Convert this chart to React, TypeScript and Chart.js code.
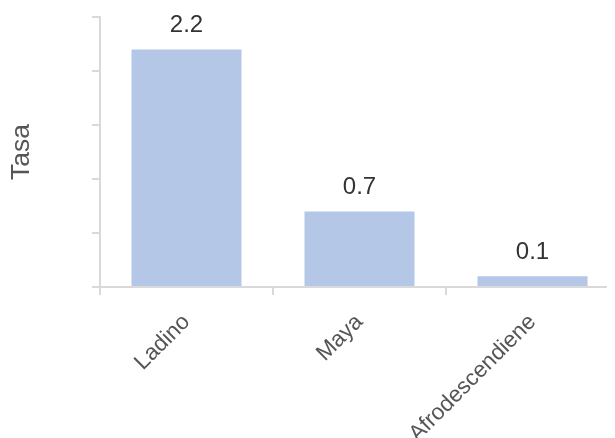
import React, { useEffect, useRef } from "react";
import { Chart, registerables } from "chart.js";

Chart.register(...registerables);

const categories = ["Ladino", "Maya", "Afrodescendiene"];
const values = [2.2, 0.7, 0.1];
const yTitle = "Tasa";

const valueLabels = {
  id: "valueLabels",
  afterDatasetsDraw(chart: any) {
    const ctx = chart.ctx;
    const meta = chart.getDatasetMeta(0);
    ctx.save();
    ctx.font = "24px 'Liberation Sans', Arial, sans-serif";
    ctx.fillStyle = "#333333";
    ctx.textAlign = "center";
    ctx.textBaseline = "bottom";
    meta.data.forEach((el: any, i: number) => {
      ctx.fillText(String(values[i]), el.x, el.y - 12);
    });
    ctx.restore();
  },
};

export default function App() {
  const ref = useRef<HTMLCanvasElement>(null);
  useEffect(() => {
    const canvas = ref.current!;
    const chart = new Chart(canvas, {
      type: "bar",
      data: {
        labels: categories,
        datasets: [
          {
            data: values,
            backgroundColor: "#b4c7e7",
            categoryPercentage: 1,
            barPercentage: 0.636,
          },
        ],
      },
      options: {
        responsive: false,
        animation: false,
        layout: { padding: { top: 9, left: 0, right: 0, bottom: 0 } },
        plugins: { legend: { display: false }, tooltip: { enabled: false } },
        scales: {
          x: {
            offset: true,
            grid: {
              offset: true,
              drawOnChartArea: false,
              color: "#d9d9d9",
              tickLength: 8,
              lineWidth: 2,
            },
            border: { color: "#d9d9d9", width: 2 },
            ticks: {
              minRotation: 45,
              maxRotation: 45,
              color: "#555555",
              padding: 14,
              font: { family: "'Liberation Sans', Arial, sans-serif", size: 22.5 },
            },
            afterFit(scale: any) {
              scale.height = 151;
            },
          },
          y: {
            min: 0,
            max: 2.5,
            ticks: { stepSize: 0.5, display: false },
            grid: {
              drawOnChartArea: false,
              color: "#d9d9d9",
              tickLength: 8,
              lineWidth: 2,
            },
            border: { color: "#d9d9d9", width: 2 },
            title: {
              display: true,
              text: yTitle,
              color: "#555555",
              padding: { top: -2, bottom: 0 },
              font: { family: "'Liberation Sans', Arial, sans-serif", size: 26.5 },
            },
            afterFit(scale: any) {
              scale.width = 92;
            },
          },
        },
      },
      plugins: [valueLabels],
    });
    return () => chart.destroy();
  }, []);
  return (
    <div style={{ width: 607, height: 430, overflow: "hidden" }}>
      <canvas ref={ref} width={611} height={430} style={{ display: "block" }} />
    </div>
  );
}
